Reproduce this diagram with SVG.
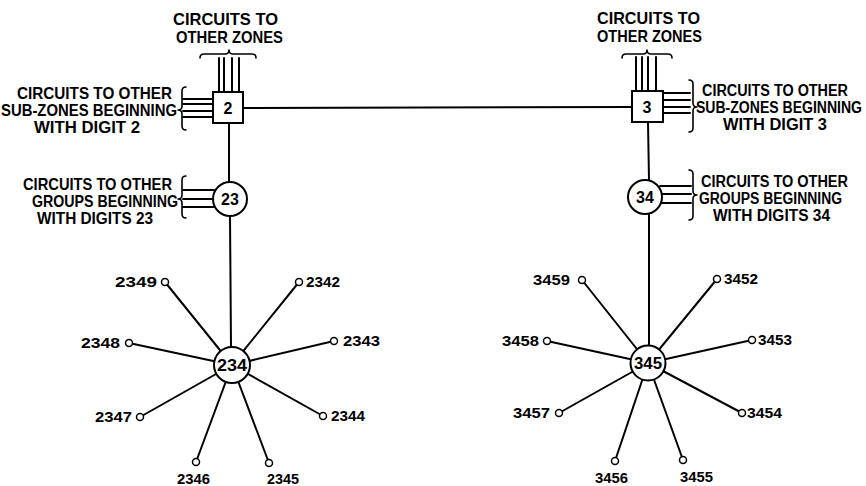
<svg xmlns="http://www.w3.org/2000/svg" width="866" height="486" viewBox="0 0 866 486">
<style>
.ln{stroke:#000;stroke-width:2;fill:none;stroke-linecap:round}
.br{stroke:#000;stroke-width:1.6;fill:none;stroke-linecap:round;stroke-linejoin:round}
.nd{stroke:#000;stroke-width:2;fill:#fff}
.lf{stroke:#000;stroke-width:1.5;fill:#fff}
.t{font-family:"Liberation Sans",Arial,sans-serif;font-weight:bold;font-size:16.5px;fill:#000}
.r{font-family:"Liberation Sans",Arial,sans-serif;font-weight:bold;font-size:14px;fill:#000}
.n{font-family:"Liberation Sans",Arial,sans-serif;font-weight:bold;font-size:14px;fill:#000}
.c{font-family:"Liberation Sans",Arial,sans-serif;font-weight:bold;font-size:16px;fill:#000;text-anchor:middle}
</style>
<rect width="866" height="486" fill="#fff"/>
<g id="connectors">
<path class="ln" d="M243,108 L632,107"/>
<path class="ln" d="M229,123 L229,183"/>
<path class="ln" d="M230,216 L231,347"/>
<path class="ln" d="M648,122 L649,180"/>
<path class="ln" d="M649,214 L649,346"/>
<path class="ln" d="M219,58 V92 M224,58 V92 M232,58 V92 M239,58 V92"/>
<path class="ln" d="M636,57 V91 M642,57 V91 M648,57 V91 M656,57 V91"/>
<path class="ln" d="M183,99 H212 M183,104 H212 M183,111 H212 M183,117 H212"/>
<path class="ln" d="M663,93 H690 M663,100 H690 M663,107 H690 M663,113 H690"/>
<path class="ln" d="M183,190 H214 M183,199 H213 M183,207 H214"/>
<path class="ln" d="M660,186 H691 M662,194 H691 M660,203 H691"/>
<path class="ln" d="M165,282 L232,365 M299,282 L232,365 M129,343 L232,365 M334,341 L232,365 M140,417 L232,365 M323,416 L232,365 M196,462 L232,365 M269,463 L232,365"/>
<path class="ln" d="M582,280 L648,363 M717,279 L648,363 M547,341 L648,363 M752,340 L648,363 M559,413 L648,363 M742,413 L648,363 M615,461 L648,363 M683,460 L648,363"/>
</g>
<g id="braces">
<path class="br" d="M200,58 Q200,54 204,54 L225,54 Q229,54 229,50 Q229,54 233,54 L252,54 Q256,54 256,58"/>
<path class="br" d="M622,58 Q622,54 626,54 L643,54 Q647,54 647,50 Q647,54 651,54 L668,54 Q672,54 672,58"/>
<path class="br" d="M186,87 Q182,87 182,91 L182,106 Q182,110 178,110 Q182,110 182,114 L182,126 Q182,130 186,130"/>
<path class="br" d="M186,176 Q182,176 182,180 L182,195 Q182,199 178,199 Q182,199 182,203 L182,214 Q182,218 186,218"/>
<path class="br" d="M689,80 Q693,80 693,84 L693,103 Q693,107 697,107 Q693,107 693,111 L693,128 Q693,132 689,132"/>
<path class="br" d="M689,170 Q693,170 693,174 L693,191 Q693,195 697,195 Q693,195 693,199 L693,216 Q693,220 689,220"/>
</g>
<g id="node-2"><rect class="nd" x="213" y="92" width="30" height="31"/><text class="c" x="228" y="114">2</text></g>
<g id="node-3"><rect class="nd" x="632" y="91" width="31" height="31"/><text class="c" x="647" y="113">3</text></g>
<g id="node-23"><circle class="nd" cx="230" cy="199" r="17"/><text class="c" x="230" y="205">23</text></g>
<g id="node-34"><circle class="nd" cx="645" cy="197" r="17"/><text class="c" x="645" y="203">34</text></g>
<g id="node-234"><circle class="nd" cx="232" cy="365" r="18"/><text class="c" x="232" y="371" textLength="30" lengthAdjust="spacingAndGlyphs">234</text></g>
<g id="node-345"><circle class="nd" cx="648" cy="363" r="17.5"/><text class="c" x="648" y="369" textLength="28" lengthAdjust="spacingAndGlyphs">345</text></g>
<g id="labels">
<text class="t" x="173" y="25" textLength="105" lengthAdjust="spacingAndGlyphs">CIRCUITS TO</text>
<text class="t" x="176" y="43" textLength="107" lengthAdjust="spacingAndGlyphs">OTHER ZONES</text>
<text class="t" x="597" y="24" textLength="103" lengthAdjust="spacingAndGlyphs">CIRCUITS TO</text>
<text class="t" x="597" y="42" textLength="105" lengthAdjust="spacingAndGlyphs">OTHER ZONES</text>
<text class="t" x="17" y="99" textLength="155" lengthAdjust="spacingAndGlyphs">CIRCUITS TO OTHER</text>
<text class="t" x="1" y="116" textLength="176" lengthAdjust="spacingAndGlyphs">SUB-ZONES BEGINNING</text>
<text class="t" x="34" y="133" textLength="106" lengthAdjust="spacingAndGlyphs">WITH DIGIT 2</text>
<text class="t" x="23" y="190" textLength="149" lengthAdjust="spacingAndGlyphs">CIRCUITS TO OTHER</text>
<text class="t" x="32" y="207" textLength="146" lengthAdjust="spacingAndGlyphs">GROUPS BEGINNING</text>
<text class="t" x="37" y="224" textLength="116" lengthAdjust="spacingAndGlyphs">WITH DIGITS 23</text>
<text class="r" transform="translate(702,96) scale(1,1.18)" x="0" y="0" textLength="146" lengthAdjust="spacingAndGlyphs">CIRCUITS TO OTHER</text>
<text class="r" transform="translate(696,113) scale(1,1.18)" x="0" y="0" textLength="166" lengthAdjust="spacingAndGlyphs">SUB-ZONES BEGINNING</text>
<text class="r" transform="translate(723,130) scale(1,1.18)" x="0" y="0" textLength="104" lengthAdjust="spacingAndGlyphs">WITH DIGIT 3</text>
<text class="r" transform="translate(701,187) scale(1,1.18)" x="0" y="0" textLength="147" lengthAdjust="spacingAndGlyphs">CIRCUITS TO OTHER</text>
<text class="r" transform="translate(699,204) scale(1,1.18)" x="0" y="0" textLength="143" lengthAdjust="spacingAndGlyphs">GROUPS BEGINNING</text>
<text class="r" transform="translate(713,221) scale(1,1.18)" x="0" y="0" textLength="117" lengthAdjust="spacingAndGlyphs">WITH DIGITS 34</text>
</g>
<g id="leaf-2349"><circle class="lf" cx="165" cy="282" r="3.5"/><text class="n" x="115" y="287" textLength="42" lengthAdjust="spacingAndGlyphs">2349</text></g>
<g id="leaf-2342"><circle class="lf" cx="299" cy="282" r="3.5"/><text class="n" x="306" y="287" textLength="34" lengthAdjust="spacingAndGlyphs">2342</text></g>
<g id="leaf-2348"><circle class="lf" cx="129" cy="343" r="3.5"/><text class="n" x="81" y="348" textLength="39" lengthAdjust="spacingAndGlyphs">2348</text></g>
<g id="leaf-2343"><circle class="lf" cx="334" cy="341" r="3.5"/><text class="n" x="343" y="346" textLength="37" lengthAdjust="spacingAndGlyphs">2343</text></g>
<g id="leaf-2347"><circle class="lf" cx="140" cy="417" r="3.5"/><text class="n" x="95" y="422" textLength="37" lengthAdjust="spacingAndGlyphs">2347</text></g>
<g id="leaf-2344"><circle class="lf" cx="323" cy="416" r="3.5"/><text class="n" x="331" y="421" textLength="34" lengthAdjust="spacingAndGlyphs">2344</text></g>
<g id="leaf-2346"><circle class="lf" cx="196" cy="462" r="3.5"/><text class="n" x="177" y="484" textLength="33" lengthAdjust="spacingAndGlyphs">2346</text></g>
<g id="leaf-2345"><circle class="lf" cx="269" cy="463" r="3.5"/><text class="n" x="267" y="484" textLength="32" lengthAdjust="spacingAndGlyphs">2345</text></g>
<g id="leaf-3459"><circle class="lf" cx="582" cy="280" r="3.5"/><text class="n" x="533" y="285" textLength="37" lengthAdjust="spacingAndGlyphs">3459</text></g>
<g id="leaf-3452"><circle class="lf" cx="717" cy="279" r="3.5"/><text class="n" x="724" y="284" textLength="34" lengthAdjust="spacingAndGlyphs">3452</text></g>
<g id="leaf-3458"><circle class="lf" cx="547" cy="341" r="3.5"/><text class="n" x="502" y="346" textLength="37" lengthAdjust="spacingAndGlyphs">3458</text></g>
<g id="leaf-3453"><circle class="lf" cx="752" cy="340" r="3.5"/><text class="n" x="758" y="345" textLength="34" lengthAdjust="spacingAndGlyphs">3453</text></g>
<g id="leaf-3457"><circle class="lf" cx="559" cy="413" r="3.5"/><text class="n" x="513" y="418" textLength="37" lengthAdjust="spacingAndGlyphs">3457</text></g>
<g id="leaf-3454"><circle class="lf" cx="742" cy="413" r="3.5"/><text class="n" x="747" y="418" textLength="35" lengthAdjust="spacingAndGlyphs">3454</text></g>
<g id="leaf-3456"><circle class="lf" cx="615" cy="461" r="3.5"/><text class="n" x="595" y="483" textLength="33" lengthAdjust="spacingAndGlyphs">3456</text></g>
<g id="leaf-3455"><circle class="lf" cx="683" cy="460" r="3.5"/><text class="n" x="680" y="482" textLength="33" lengthAdjust="spacingAndGlyphs">3455</text></g>
</svg>
